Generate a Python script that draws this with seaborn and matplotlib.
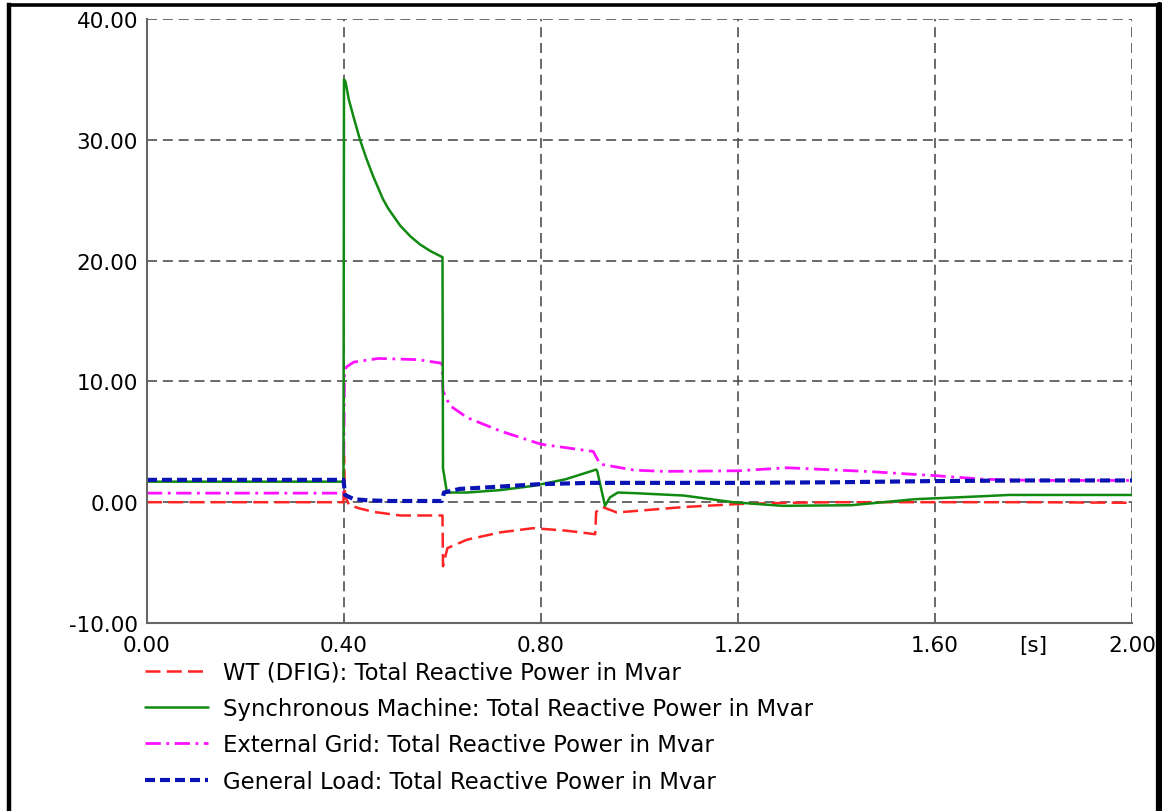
import numpy as np
import pandas as pd
import matplotlib
matplotlib.use("Agg")
import matplotlib.pyplot as plt
import seaborn as sns
from matplotlib.lines import Line2D
from matplotlib.ticker import MultipleLocator, FormatStrFormatter

# ---- data ----
t_wt = [0.0, 0.399, 0.400, 0.402, 0.41, 0.43, 0.46, 0.514, 0.599, 0.600, 0.601, 0.61,
        0.65, 0.717, 0.784, 0.85, 0.910, 0.912, 0.925, 0.954, 1.0, 1.09, 1.2, 1.3,
        1.4, 1.6, 1.8, 2.0]
q_wt = [0.0, 0.0, 3.8, 0.5, -0.2, -0.5, -0.8, -1.1, -1.1, -1.1, -5.3, -3.8,
        -3.1, -2.5, -2.15, -2.35, -2.65, -0.8, -0.4, -0.85, -0.7, -0.4, -0.15, -0.05,
        0.0, 0.0, 0.0, -0.05]

t_sm = [0.0, 0.399, 0.400, 0.403, 0.41, 0.42, 0.4325, 0.445, 0.459, 0.479, 0.49,
        0.514, 0.535, 0.554, 0.575, 0.599,
        0.600, 0.601, 0.609, 0.65, 0.717, 0.784, 0.85, 0.912, 0.914, 0.93, 0.94,
        0.956, 0.99, 1.09, 1.19, 1.29, 1.43, 1.56, 1.70, 1.75, 2.0]
q_sm = [1.7, 1.7, 35.0, 34.8, 33.3, 31.8, 30.0, 28.5, 27.0, 25.1, 24.3,
        22.9, 22.0, 21.35, 20.8, 20.3,
        20.3, 2.8, 0.8, 0.8, 1.0, 1.35, 1.9, 2.7, 2.6, -0.3, 0.4,
        0.8, 0.75, 0.55, 0.0, -0.3, -0.25, 0.25, 0.5, 0.6, 0.6]

t_eg = [0.0, 0.399, 0.401, 0.405, 0.42, 0.47, 0.55, 0.599, 0.601, 0.615, 0.65, 0.717,
        0.8, 0.906, 0.92, 0.99, 1.05, 1.2, 1.30, 1.46, 1.6, 1.70, 1.8, 2.0]
q_eg = [0.75, 0.75, 10.8, 11.2, 11.6, 11.9, 11.8, 11.5, 9.2, 8.0, 7.0, 5.9,
        4.8, 4.2, 3.15, 2.65, 2.55, 2.6, 2.85, 2.55, 2.2, 1.9, 1.8, 1.8]

t_gl = [0.0, 0.399, 0.402, 0.42, 0.45, 0.49, 0.599, 0.603, 0.635, 0.7, 0.8, 0.9,
        1.0, 1.2, 1.4, 1.6, 1.8, 2.0]
q_gl = [1.85, 1.85, 0.6, 0.25, 0.15, 0.1, 0.1, 0.8, 1.1, 1.25, 1.5, 1.6,
        1.6, 1.6, 1.65, 1.75, 1.8, 1.8]

labels = ["WT (DFIG): Total Reactive Power in Mvar",
          "Synchronous Machine: Total Reactive Power in Mvar",
          "External Grid: Total Reactive Power in Mvar",
          "General Load: Total Reactive Power in Mvar"]
x_ticks = [0.0, 0.4, 0.8, 1.2, 1.6, 2.0]
y_ticks = [-10, 0, 10, 20, 30, 40]

# ---- style ----
sns.set_style("white")
plt.rcParams["font.family"] = ["DejaVu Sans"]
plt.rcParams["axes.unicode_minus"] = False
plt.rcParams["text.color"] = "black"

fig = plt.figure(figsize=(11.62, 8.12), dpi=100)
ax = fig.add_axes([147/1162, 1-624/812, (1132-147)/1162, (624-20)/812])

series = [
    (t_wt, q_wt, "#ff2424", 1.8, (0, (6, 2.5)), 3),
    (t_sm, q_sm, "#118a11", 1.8, "-", 4),
    (t_eg, q_eg, "#ff10ff", 2.0, (0, (5.5, 2, 1, 2)), 2),
    (t_gl, q_gl, "#0a14b4", 3.0, (0, (2.4, 1.2)), 5),
]
handles = []
for (t, q, c, lw, ls, z), lab in zip(series, labels):
    df = pd.DataFrame({"t": t, "q": q})
    sns.lineplot(data=df, x="t", y="q", ax=ax, sort=False, estimator=None,
                 color=c, linewidth=lw, linestyle=ls, zorder=z, label=lab)
    handles.append(Line2D([], [], color=c, linewidth=lw, linestyle=ls))
if ax.get_legend() is not None:
    ax.get_legend().remove()

ax.set_xlim(0, 2.0)
ax.set_ylim(-10, 40)
ax.set_xlabel("")
ax.set_ylabel("")
ax.set_xticks(x_ticks)
ax.set_yticks(y_ticks)
ax.xaxis.set_major_formatter(FormatStrFormatter("%.2f"))
ax.yaxis.set_major_formatter(FormatStrFormatter("%.2f"))
ax.xaxis.set_minor_locator(MultipleLocator(0.2))
ax.yaxis.set_minor_locator(MultipleLocator(5))
ax.tick_params(axis="both", which="major", length=0, labelsize=15.5, labelcolor="black")
ax.tick_params(axis="x", which="major", pad=9)
ax.tick_params(axis="y", which="major", pad=6.5)
ax.tick_params(axis="both", which="minor", direction="in", length=3.5, width=1.2,
               color="#555555")
ax.grid(True, which="major", color="#505050", linewidth=1.2, linestyle=(0, (6, 3.5)))
for s in ["top", "right"]:
    ax.spines[s].set_visible(False)
for s in ["left", "bottom"]:
    ax.spines[s].set_color("#666666")
    ax.spines[s].set_linewidth(1.5)
    ax.spines[s].set_zorder(6)

ax.annotate("[s]", xy=(1.8, 0), xycoords=("data", "axes fraction"),
            xytext=(0, -9), textcoords="offset points", ha="center", va="top",
            fontsize=15.5, color="black")

leg = fig.legend(handles, labels, loc="upper left", bbox_to_anchor=(145/1162, 1-662/812),
                 frameon=False, fontsize=16.4, handlelength=2.75, handletextpad=0.66,
                 labelspacing=0.58, borderpad=0, borderaxespad=0)
for txt in leg.get_texts():
    txt.set_color("black")

# outer black frame
fig.add_artist(Line2D([8.8/1162, 8.8/1162], [0, 1-5.7/812], transform=fig.transFigure,
                      color="black", linewidth=3.2, zorder=20, solid_capstyle="projecting"))
fig.add_artist(Line2D([8.8/1162, 1158.5/1162], [1-5.7/812, 1-5.7/812], transform=fig.transFigure,
                      color="black", linewidth=2.6, zorder=20, solid_capstyle="projecting"))
fig.add_artist(Line2D([1158.5/1162, 1158.5/1162], [0, 1-5.7/812], transform=fig.transFigure,
                      color="black", linewidth=5.2, zorder=20))

fig.savefig("out.png", dpi=100, facecolor="white")
